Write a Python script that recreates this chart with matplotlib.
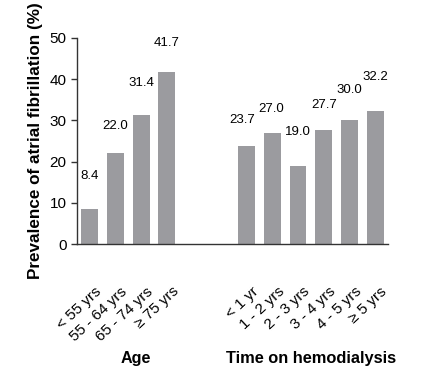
import matplotlib
matplotlib.use('Agg')
import matplotlib.pyplot as plt
from matplotlib.transforms import ScaledTranslation

plt.rcParams['font.family'] = ['Liberation Sans', 'DejaVu Sans']

AGE_LABELS = ['< 55 yrs', '55 - 64 yrs', '65 - 74 yrs', '≥ 75 yrs']
AGE_VALUES = [8.4, 22.0, 31.4, 41.7]
HD_LABELS = ['< 1 yr', '1 - 2 yrs', '2 - 3 yrs', '3 - 4 yrs', '4 - 5 yrs', '≥ 5 yrs']
HD_VALUES = [23.7, 27.0, 19.0, 27.7, 30.0, 32.2]

AGE_POS = [0, 1, 2, 3]
HD_POS = [6.1, 7.1, 8.1, 9.1, 10.1, 11.1]

# value-label nudges (points sideways, points above bar top) as in the original
AGE_NUDGE = [(0, 24), (0, 20), (0, 23), (0, 21)]
HD_NUDGE = [(-3, 19), (-1, 17), (0, 24), (0, 18), (0, 22), (0, 25)]

BAR = '#9b9b9f'
AX = '#333333'

fig = plt.figure(figsize=(4.47, 3.71), dpi=100)
ax = fig.add_axes([0.172, 0.342, 0.696, 0.556])

for pos, vals, nudge in ((AGE_POS, AGE_VALUES, AGE_NUDGE), (HD_POS, HD_VALUES, HD_NUDGE)):
    ax.bar(pos, vals, width=0.66, color=BAR)
    for x, v, (dx, dy) in zip(pos, vals, nudge):
        ax.annotate(f'{v:.1f}', (x, v), xytext=(dx, dy), textcoords='offset points',
                    ha='center', va='center', fontsize=9.5)

ax.set_xlim(-0.5, 11.6)
ax.set_ylim(0, 50)
ax.set_yticks([0, 10, 20, 30, 40, 50])
ax.tick_params(axis='y', labelsize=11, length=4, color=AX, width=1)
ax.set_xticks(AGE_POS + HD_POS)
ax.set_xticklabels(AGE_LABELS + HD_LABELS, rotation=43, ha='right',
                   rotation_mode='anchor', fontsize=11)
ax.tick_params(axis='x', length=0, pad=29)
shift = ScaledTranslation(5 / 100, 0, fig.dpi_scale_trans)
for lab in ax.get_xticklabels():
    lab.set_transform(lab.get_transform() + shift)
for s in ('top', 'right'):
    ax.spines[s].set_visible(False)
for s in ('left', 'bottom'):
    ax.spines[s].set_color(AX)
    ax.spines[s].set_linewidth(1)
ax.set_ylabel('Prevalence of atrial fibrillation (%)', fontsize=12.3, fontweight='bold',
              labelpad=5)

fig.text(136 / 447, 1 - 358 / 371, 'Age', ha='center', va='center',
         fontsize=11.6, fontweight='bold')
fig.text(311 / 447, 1 - 358 / 371, 'Time on hemodialysis', ha='center', va='center',
         fontsize=11.8, fontweight='bold')

fig.savefig('out.png', dpi=100)
